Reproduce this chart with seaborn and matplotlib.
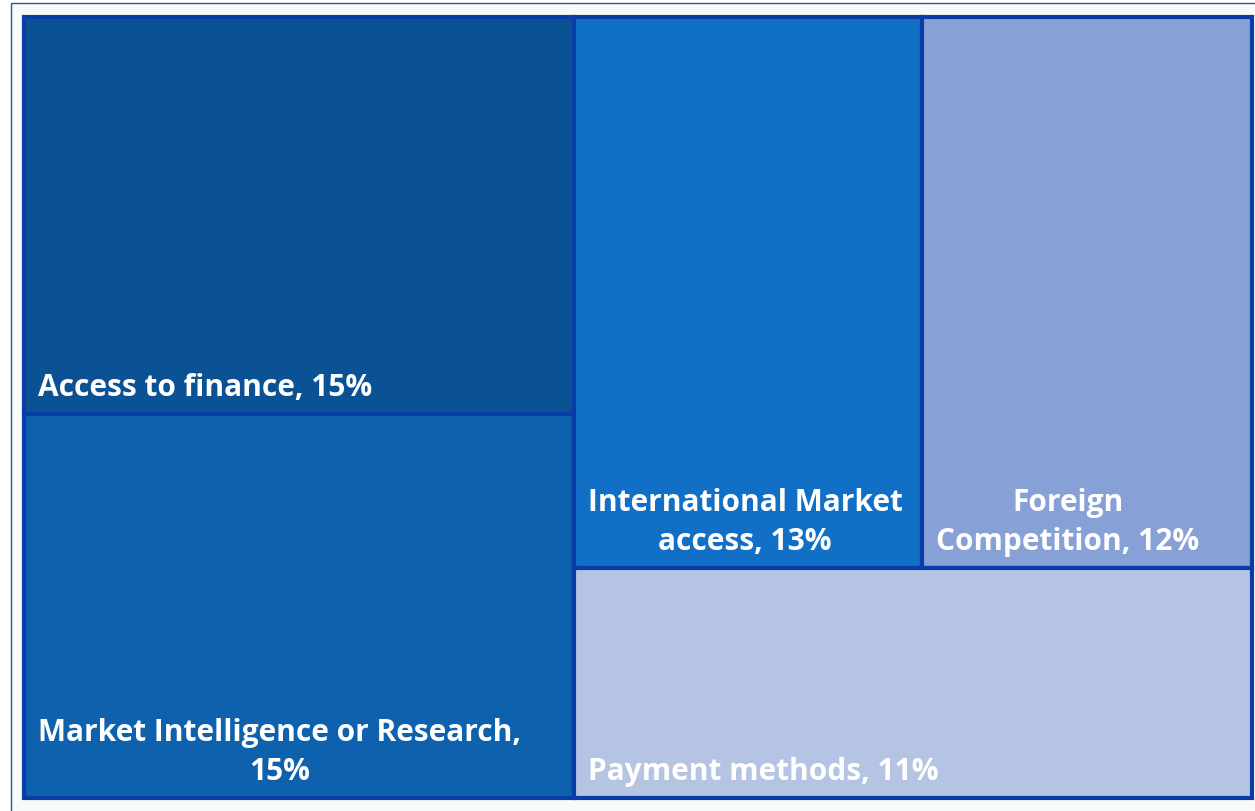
import seaborn as sns
import matplotlib.pyplot as plt
from matplotlib.patches import Rectangle

# data (sizes estimated from the tile areas, labels as printed)
labels = ["Access to finance, 15%",
          "Market Intelligence or Research,\n15%",
          "International Market\naccess, 13%",
          "Foreign\nCompetition, 12%",
          "Payment methods, 11%"]
values = [15.0, 14.5, 13.2, 12.5, 10.7]
colors = ["#0a5294", "#0d61ad", "#1170c6", "#87a1d6", "#b4c4e2"]

W, H = 1228, 781  # plotting area in data units (px-like)


def worst(row, side):
    s = sum(row)
    return max(max(side * side * r / (s * s), (s * s) / (side * side * r)) for r in row)


def squarify(vals, x, y, w, h):
    # vals already scaled to area
    rects = []
    vals = list(vals)
    while vals:
        side = min(w, h)
        row = [vals.pop(0)]
        while vals and worst(row + [vals[0]], side) <= worst(row, side):
            row.append(vals.pop(0))
        s = sum(row)
        if w >= h:
            cw = s / h
            cy = y
            for r in row:
                rh = r / cw
                rects.append((x, cy, cw, rh))
                cy += rh
            x += cw
            w -= cw
        else:
            rh = s / w
            cx = x
            for r in row:
                rw = r / rh
                rects.append((cx, y, rw, rh))
                cx += rw
            y += rh
            h -= rh
    return rects


total = sum(values)
areas = [v / total * W * H for v in values]
rects = squarify(areas, 0, 0, W, H)

sns.set_theme(style="white")
plt.rcParams['font.family'] = ['Open Sans', 'DejaVu Sans']

fig = plt.figure(figsize=(12.55, 8.11), dpi=100)
fig.patch.set_facecolor("white")
# thin outer frame
fig.patches.append(Rectangle((11 / 1255, -0.05), 1.2, 1 - 3 / 811 + 0.05,
                             transform=fig.transFigure, facecolor="#f8faf9",
                             edgecolor="#2a4fb0", linewidth=1.0, zorder=-5))

ax = fig.add_axes([24 / 1255, 1 - 798 / 811, (1252 - 24) / 1255, (798 - 17) / 811])
ax.set_xlim(0, W)
ax.set_ylim(H, 0)
ax.axis("off")

for (x, y, w, h), c, lab in zip(rects, colors, labels):
    ax.bar(x, h, width=w, bottom=y, align="edge", color=c,
           edgecolor="#0a3ca8", linewidth=3.0, clip_on=False)
    ax.annotate(lab, (x, y + h), xytext=(10, 8), textcoords="offset points",
                ha="left", va="bottom", multialignment="center",
                linespacing=1.4, color="white", fontsize=21.5, fontweight="bold")

fig.savefig("out.png", dpi=100)
